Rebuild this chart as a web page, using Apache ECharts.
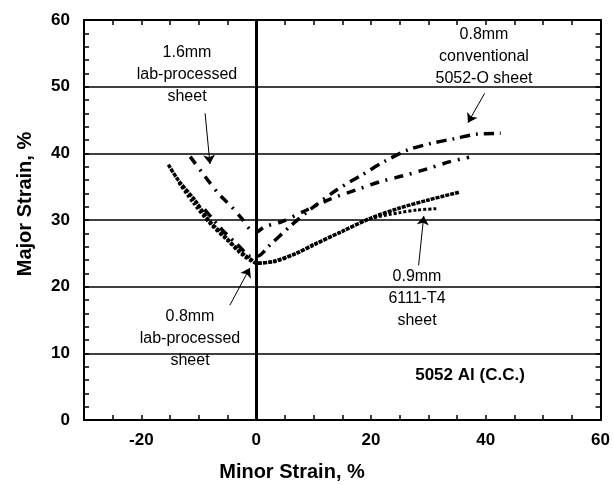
<!DOCTYPE html>
<html>
<head>
<meta charset="utf-8">
<script src="https://cdn.jsdelivr.net/npm/echarts@6/dist/echarts.min.js"></script>
<style>
  html, body { margin: 0; padding: 0; background: #fff; }
  #chart { width: 613px; height: 485px; }
</style>
</head>
<body>
<div id="chart"></div>
<script>
// curves: [minor strain, major strain]
const lab08 = [[-15.3, 38.3], [-13.6, 36], [-10.7, 33], [-8.3, 30], [-5.4, 27.5], [-3.1, 25.5], [-0.8, 24], [0, 23.5],
  [3, 23.8], [7, 25], [10, 26.3], [15, 28.3], [20, 30.3], [25, 31.8], [30, 33], [35.5, 34.2]];
const t4sheet = [[-13.5, 35.6], [-11, 32.6], [-8, 29.4], [-5, 26.9], [-2.5, 24.8], [0, 23.6],
  [3, 23.7], [7, 25], [10, 26.2], [15, 28.3], [20, 30.2], [25, 31.1], [28, 31.5], [31.5, 31.7]];
const conv05 = [[-9, 31.6], [-6, 28.6], [-3, 26.1], [-1, 24.6], [0.3, 24.6],
  [2.1, 26], [6.1, 29.2], [9.6, 31.7], [14, 34.5], [18.3, 36.7], [22.4, 38.8], [26.4, 40.5], [30.5, 41.5], [34.5, 42.2], [38.6, 42.9], [42.6, 43]];
const lab16 = [[-11.5, 39.5], [-9.5, 37.2], [-6.6, 34], [-4.3, 32], [-2.5, 30.2], [-1.1, 28.6], [0, 28.2],
  [1.5, 29], [4.3, 29.7], [8.8, 31.5], [13.1, 33.2], [17.7, 34.6], [21.8, 35.8], [25.9, 36.7], [29.9, 37.7], [34, 38.8], [37.1, 39.4]];

// arrows: [from, to]
const arrows = [
  [[-8.9, 46], [-8.05, 38.4]],
  [[39.8, 49], [36.9, 44.6]],
  [[28.3, 23.2], [29.2, 30.6]],
  [[-4.6, 17.2], [-1.1, 22.8]]
];

const xTicks = [-20, 0, 20, 40, 60];

const font = 'Liberation Sans, Arial, sans-serif';
const myChart = echarts.init(document.getElementById('chart'));

function note(x, y, lines) {
  return lines.map((t, i) => ({
    type: 'text', x: x, y: y + i * 22,
    style: { text: t, font: '16px ' + font, fill: '#000', textAlign: 'center', textVerticalAlign: 'middle' }
  }));
}

const axisBase = {
  axisLine: { show: true, onZero: false, lineStyle: { color: '#000', width: 2 } },
  axisTick: { show: true, inside: true, length: 5, lineStyle: { color: '#000', width: 1.5 } }
};

const option = {
  animation: false,
  backgroundColor: '#fff',
  grid: { left: 84, right: 10, top: 20, bottom: 65 },
  xAxis: [
    Object.assign({
      type: 'value', min: -30, max: 60, interval: 5, position: 'bottom',
      splitLine: { show: false },
      axisLabel: {
        margin: 12, color: '#000', fontSize: 17, fontWeight: 'bold', fontFamily: font,
        formatter: v => xTicks.includes(v) ? String(v) : ''
      }
    }, axisBase),
    Object.assign({
      type: 'value', min: -30, max: 60, interval: 5, position: 'top',
      splitLine: { show: false }, axisLabel: { show: false }
    }, axisBase)
  ],
  yAxis: [
    Object.assign({
      type: 'value', min: 0, max: 60, interval: 10, position: 'left',
      splitLine: { show: true, lineStyle: { color: '#000', width: 1.5 } },
      minorTick: { show: true, splitNumber: 5, length: 5, lineStyle: { color: '#000', width: 1.5 } },
      axisLabel: { margin: 14, color: '#000', fontSize: 17, fontWeight: 'bold', fontFamily: font }
    }, axisBase),
    Object.assign({
      type: 'value', min: 0, max: 60, interval: 10, position: 'right',
      splitLine: { show: false },
      minorTick: { show: true, splitNumber: 5, length: 5, lineStyle: { color: '#000', width: 1.5 } },
      axisLabel: { show: false }
    }, axisBase)
  ],
  series: [
    {
      name: '0.8mm lab-processed', type: 'line', data: lab08, smooth: 0.3, showSymbol: false,
      lineStyle: { color: '#000', width: 3.5, type: [4, 1] },
      markLine: {
        silent: true, symbol: 'none', symbolSize: 9, label: { show: false },
        lineStyle: { color: '#000', width: 1, type: 'solid' },
        data: [{ xAxis: 0, lineStyle: { width: 3, color: '#000', type: 'solid' } }]
          .concat(arrows.map(a => [{ coord: a[0] }, { coord: a[1], symbol: 'arrow' }]))
      }
    },
    {
      name: '0.9mm 6111-T4', type: 'line', data: t4sheet, smooth: 0.3, showSymbol: false,
      lineStyle: { color: '#000', width: 3, type: [3, 2] }
    },
    {
      name: '0.8mm conventional 5052-O', type: 'line', data: conv05, smooth: 0.3, showSymbol: false,
      lineStyle: { color: '#000', width: 3.5, type: [10, 6, 2, 6] }
    },
    {
      name: '1.6mm lab-processed', type: 'line', data: lab16, smooth: 0.3, showSymbol: false,
      lineStyle: { color: '#000', width: 3.5, type: [9, 7, 2, 7] }
    }
  ],
  graphic: [].concat(
    note(187, 53, ['1.6mm', 'lab-processed', 'sheet']),
    note(484, 35, ['0.8mm', 'conventional', '5052-O sheet']),
    note(417, 277, ['0.9mm', '6111-T4', 'sheet']),
    note(190, 317, ['0.8mm', 'lab-processed', 'sheet']),
    [
      { type: 'text', x: 470, y: 375,
        style: { text: '5052 Al (C.C.)', font: 'bold 17px ' + font, fill: '#000', textAlign: 'center', textVerticalAlign: 'middle' } },
      { type: 'text', x: 292, y: 472,
        style: { text: 'Minor Strain, %', font: 'bold 20px ' + font, fill: '#000', textAlign: 'center', textVerticalAlign: 'middle' } },
      { type: 'text', x: 25, y: 204, rotation: Math.PI / 2,
        style: { text: 'Major Strain, %', font: 'bold 20px ' + font, fill: '#000', textAlign: 'center', textVerticalAlign: 'middle' } }
    ]
  )
};

option && myChart.setOption(option);
</script>
</body>
</html>
